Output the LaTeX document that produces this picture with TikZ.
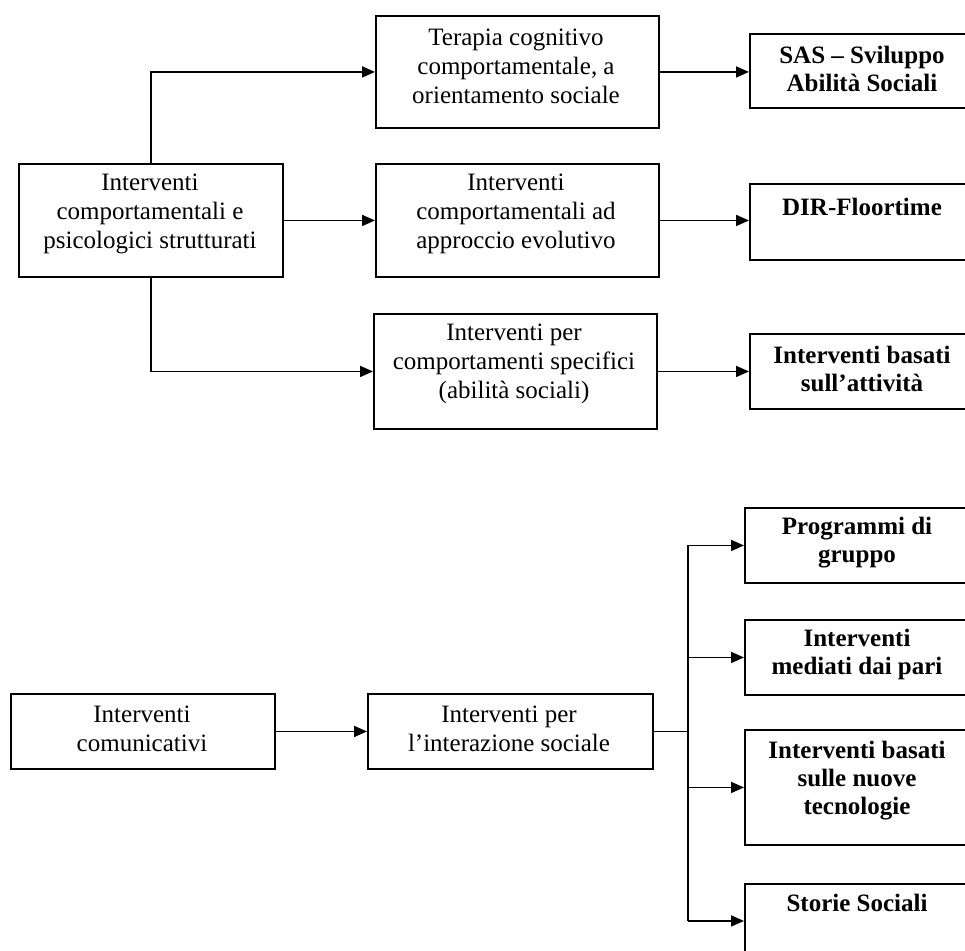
\documentclass[tikz,border=0pt]{standalone}
\usepackage{fontspec}
\setmainfont{Liberation Serif}
\usetikzlibrary{arrows.meta}
\begin{document}
\begin{tikzpicture}[x=1pt,y=-1pt,
  box/.style={draw, line width=1.9pt, inner sep=0pt, anchor=north west},
  txt/.style={align=center, font=\fontsize{25}{29}\selectfont, inner sep=0pt},
  btxt/.style={align=center, font=\fontsize{25}{28}\selectfont\bfseries, inner sep=0pt},
  arr/.style={line width=1.8pt, -{Triangle[length=13pt,width=11pt]}},
  ln/.style={line width=1.8pt}]
\useasboundingbox (0,0) rectangle (965,950);
\clip (0,0) rectangle (965,950);

% upper part
\node[box, minimum width=264pt, minimum height=113pt] (L) at (18,163) {};
\node[box, minimum width=283pt, minimum height=112pt] (M1) at (375,15) {};
\node[box, minimum width=283pt, minimum height=113pt] (M2) at (375,163) {};
\node[box, minimum width=283pt, minimum height=115pt] (M3) at (373,313) {};
\node[box, minimum width=226pt, minimum height=74pt] (R1) at (749,33) {};
\node[box, minimum width=226pt, minimum height=76pt] (R2) at (749,183) {};
\node[box, minimum width=226pt, minimum height=75pt] (R3) at (749,333) {};

\node[txt] (Lt) at (150,214) {Interventi\\comportamentali e\\psicologici strutturati};
\node[txt] (M1t) at (516,66) {Terapia cognitivo\\comportamentale, a\\orientamento sociale};
\node[txt] (M2t) at (516,214) {Interventi\\comportamentali ad\\approccio evolutivo};
\node[txt] (M3t) at (514,364) {Interventi per\\comportamenti specifici\\(abilità sociali)};
\node[btxt] (R1t) at (862,68.5) {SAS – Sviluppo\\Abilità Sociali};
\node[btxt] (R2t) at (862,207) {DIR-Floortime};
\node[btxt] (R3t) at (862,368.5) {Interventi basati\\sull’attività};

\draw[arr] (L.north) |- (M1.west);
\draw[arr] (L.east) -- (M2.west);
\draw[arr] (L.south) |- (M3.west);
\draw[arr] (M1.east) -- (M1.east -| R1.west);
\draw[arr] (M2.east) -- (M2.east -| R2.west);
\draw[arr] (M3.east) -- (M3.east -| R3.west);

% lower part
\node[box, minimum width=264pt, minimum height=75pt] (C) at (10,693) {};
\node[box, minimum width=285pt, minimum height=75pt] (I) at (367,693) {};
\node[box, minimum width=226pt, minimum height=75pt] (P) at (744,507) {};
\node[box, minimum width=226pt, minimum height=75pt] (D) at (744,619) {};
\node[box, minimum width=226pt, minimum height=115pt] (T) at (744,729) {};
\node[box, minimum width=226pt, minimum height=74pt] (S) at (744,883) {};

\node[txt] (Ct) at (142,729) {Interventi\\comunicativi};
\node[txt] (It) at (509,729) {Interventi per\\l’interazione sociale};
\node[btxt] (Pt) at (857,542.5) {Programmi di\\gruppo};
\node[btxt] (Dt) at (857,654.5) {Interventi\\mediati dai pari};
\node[btxt] (Tt) at (857,781) {Interventi basati\\sulle nuove\\tecnologie};
\node[btxt] (St) at (857,903) {Storie Sociali};

\coordinate (tr) at (688,730.5);
\draw[arr] (C.east) -- (I.west);
\draw[ln] (I.east) -- (I.east -| tr);
\draw[ln] (tr |- P.west) -- (tr |- S.west);
\draw[arr] (tr |- P.west) -- (P.west);
\draw[arr] (tr |- D.west) -- (D.west);
\draw[arr] (tr |- T.west) -- (T.west);
\draw[arr] (tr |- S.west) -- (S.west);
\end{tikzpicture}
\end{document}
